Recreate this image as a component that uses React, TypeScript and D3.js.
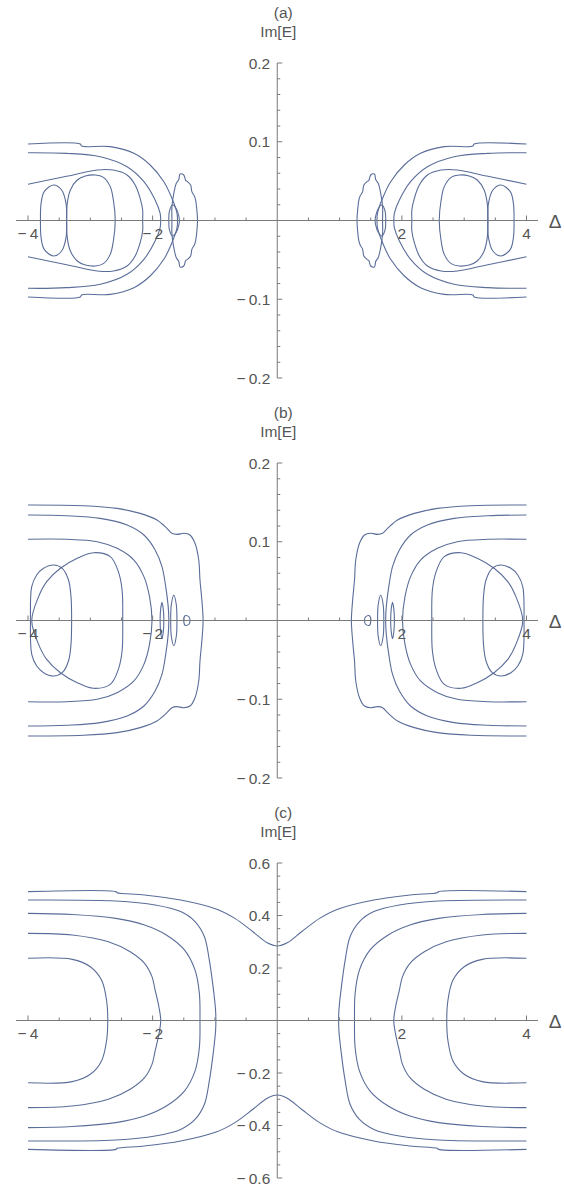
import React from 'react';
import * as d3 from 'd3';

type Pt = [number, number];

// ---------- axis ticks ----------
const X_TICK_VALUES = [-4, -2, 2, 4];
const X_TICK_LABELS = ['\u2212\u20094', '\u2212\u20092', '2', '4'];
const X_MINOR_VALUES = [-3.5, -3, -2.5, -1.5, -1, -0.5, 0.5, 1, 1.5, 2.5, 3, 3.5];

const AB_Y_TICKS = [-0.2, -0.1, 0.1, 0.2];
const AB_Y_LABELS = ['\u2212\u20090.2', '\u2212\u20090.1', '0.1', '0.2'];
const AB_Y_MINOR = [-0.18, -0.16, -0.14, -0.12, -0.08, -0.06, -0.04, -0.02, 0.02, 0.04, 0.06, 0.08, 0.12, 0.14, 0.16, 0.18];

const C_Y_TICKS = [-0.6, -0.4, -0.2, 0.2, 0.4, 0.6];
const C_Y_LABELS = ['\u2212\u20090.6', '\u2212\u20090.4', '\u2212\u20090.2', '0.2', '0.4', '0.6'];
const C_Y_MINOR = [-0.55, -0.5, -0.45, -0.35, -0.3, -0.25, -0.15, -0.1, -0.05, 0.05, 0.1, 0.15, 0.25, 0.3, 0.35, 0.45, 0.5, 0.55];

// ---------- panel (a): upper-left quadrant traces ----------
const A_OUTER: Pt[] = [[-4.0, 0.0971], [-3.16, 0.0971], [-3.14, 0.0945], [-2.68, 0.0938], [-2.3, 0.0853], [-2.04, 0.0705], [-1.82, 0.0493], [-1.69, 0.0282], [-1.61, 0.0097], [-1.6, 0]];
const A_SECOND: Pt[] = [[-4.0, 0.0861], [-3.38, 0.0853], [-2.84, 0.081], [-2.41, 0.0683], [-2.14, 0.0493], [-1.96, 0.026], [-1.88, 0.0093], [-1.87, 0]];
const A_THIRD: Pt[] = [[-4.0, 0.046], [-3.36, 0.0565], [-2.89, 0.0641], [-2.63, 0.0641], [-2.41, 0.0578], [-2.28, 0.0451], [-2.2, 0.0281], [-2.16, 0.0133], [-2.16, 0]];
const A_BIG_LOOP: Pt[] = [[-3.38, 0], [-3.37, 0.0217], [-3.32, 0.0387], [-3.21, 0.0514], [-3.08, 0.0565], [-2.92, 0.0578], [-2.79, 0.0548], [-2.68, 0.043], [-2.63, 0.026], [-2.6, 0]];
const A_SMALL_LOOP: Pt[] = [[-3.8, 0], [-3.79, 0.0217], [-3.74, 0.0366], [-3.59, 0.0451], [-3.46, 0.0387], [-3.39, 0.0217], [-3.38, 0]];
const A_BLOB: Pt[] = [[-1.69, 0], [-1.69, 0.0176], [-1.66, 0.0345], [-1.62, 0.0472], [-1.58, 0.052], [-1.56, 0.059], [-1.5, 0.0578], [-1.47, 0.051], [-1.44, 0.0493], [-1.39, 0.0451], [-1.37, 0.0366], [-1.33, 0.031], [-1.31, 0.026], [-1.29, 0.0133], [-1.28, 0]];
const A_INNER: Pt[] = [[-1.74, 0], [-1.73, 0.012], [-1.68, 0.0197], [-1.62, 0.015], [-1.58, 0.006], [-1.57, 0]];

// ---------- panel (b) ----------
const B_OUTER: Pt[] = [[-4.0, 0.1467], [-3.11, 0.1458], [-2.57, 0.1424], [-2.2, 0.136], [-1.93, 0.1276], [-1.77, 0.117], [-1.69, 0.1107], [-1.61, 0.1094], [-1.5, 0.1107], [-1.4, 0.1086], [-1.32, 0.098], [-1.26, 0.0768], [-1.24, 0.0514], [-1.21, 0.026], [-1.19, 0]];
const B_SECOND: Pt[] = [[-4.0, 0.134], [-3.38, 0.133], [-2.84, 0.1297], [-2.41, 0.1213], [-2.14, 0.1086], [-1.96, 0.0896], [-1.85, 0.0684], [-1.79, 0.043], [-1.75, 0.0176], [-1.74, 0]];
const B_THIRD: Pt[] = [[-4.0, 0.1031], [-3.38, 0.1031], [-2.89, 0.1001], [-2.57, 0.0917], [-2.3, 0.0768], [-2.14, 0.0557], [-2.05, 0.0303], [-2.01, 0]];
const B_BIG_LOOP: Pt[] = [[-3.94, 0], [-3.83, 0.0303], [-3.7, 0.0494], [-3.48, 0.0663], [-3.21, 0.079], [-2.95, 0.0861], [-2.68, 0.0811], [-2.55, 0.062], [-2.49, 0.0387], [-2.48, 0]];
const B_SMALL_LOOP: Pt[] = [[-3.96, 0], [-3.94, 0.043], [-3.86, 0.0578], [-3.75, 0.0663], [-3.59, 0.0705], [-3.45, 0.0663], [-3.35, 0.0514], [-3.31, 0.0303], [-3.3, 0]];
const B_LOOP_1: Pt[] = [[-1.88, 0], [-1.87, 0.015], [-1.85, 0.023], [-1.83, 0.015], [-1.82, 0]];
const B_LOOP_2: Pt[] = [[-1.71, 0], [-1.7, 0.02], [-1.66, 0.032], [-1.62, 0.02], [-1.61, 0]];
const B_LOOP_3: Pt[] = [[-1.5, 0], [-1.48, 0.006], [-1.42, 0.005], [-1.4, 0]];

// ---------- panel (c) ----------
const C_TOP: Pt[] = [[-4.0, 0.491], [-2.59, 0.491], [-2.57, 0.487], [-2.13, 0.478], [-1.55, 0.459], [-0.97, 0.424], [-0.68, 0.389], [-0.39, 0.338], [-0.16, 0.296], [0, 0.284]];
const C_SECOND: Pt[] = [[-4.0, 0.459], [-2.59, 0.455], [-1.96, 0.44], [-1.55, 0.415], [-1.32, 0.377], [-1.17, 0.32], [-1.09, 0.23], [-1.03, 0.129], [-0.99, 0.04], [-0.985, 0]];
const C_THIRD: Pt[] = [[-4.0, 0.408], [-3.29, 0.404], [-2.59, 0.389], [-2.13, 0.364], [-1.78, 0.326], [-1.49, 0.269], [-1.32, 0.193], [-1.25, 0.104], [-1.24, 0]];
const C_FOURTH: Pt[] = [[-4.0, 0.332], [-3.29, 0.326], [-2.71, 0.3], [-2.36, 0.262], [-2.13, 0.218], [-2.01, 0.167], [-1.96, 0.116], [-1.9, 0.053], [-1.87, 0]];
const C_FIFTH: Pt[] = [[-4.0, 0.237], [-3.29, 0.233], [-3.0, 0.205], [-2.82, 0.154], [-2.74, 0.078], [-2.72, 0]];

type Kind = 'edge' | 'loop' | 'bridge';
type Curve = { pts: Pt[]; kind: Kind };

const FONT = '"Liberation Sans", Arial, sans-serif';
const CURVE_COLOR = '#5a6d99';
const AXIS_COLOR = '#7a7a7a';
const TEXT_COLOR = '#555555';
const FS = 15.5;

function expand(c: Curve): { pts: Pt[]; closed: boolean }[] {
  const p = c.pts;
  if (c.kind === 'edge') {
    const full: Pt[] = [...p, ...p.slice(0, -1).reverse().map(([x, y]) => [x, -y] as Pt)];
    return [
      { pts: full, closed: false },
      { pts: full.map(([x, y]) => [-x, y] as Pt), closed: false },
    ];
  }
  if (c.kind === 'loop') {
    const full: Pt[] = [...p, ...p.slice(1, -1).reverse().map(([x, y]) => [x, -y] as Pt)];
    return [
      { pts: full, closed: true },
      { pts: full.map(([x, y]) => [-x, y] as Pt), closed: true },
    ];
  }
  const full: Pt[] = [...p, ...p.slice(0, -1).reverse().map(([x, y]) => [-x, y] as Pt)];
  return [
    { pts: full, closed: false },
    { pts: full.map(([x, y]) => [x, -y] as Pt), closed: false },
  ];
}

type PanelProps = {
  top: number;
  label: string;
  yMax: number;
  yTicks: number[];
  yLabels: string[];
  yMinor: number[];
  curves: Curve[];
};

function Panel({ top, label, yMax, yTicks, yLabels, yMinor, curves }: PanelProps) {
  const x = d3.scaleLinear().domain([-4, 4]).range([28, 526.5]);
  const y = d3.scaleLinear().domain([-yMax, yMax]).range([top + 315, top]);
  const x0 = x(0);
  const y0 = y(0);
  const open = d3.line<Pt>().x((d) => x(d[0])).y((d) => y(d[1])).curve(d3.curveCatmullRom.alpha(0.5));
  const closed = d3.line<Pt>().x((d) => x(d[0])).y((d) => y(d[1])).curve(d3.curveCatmullRomClosed.alpha(0.5));
  const paths = curves.flatMap(expand);
  return (
    <g>
      <text x={x0 + 6} y={top - 45} textAnchor="middle" fontSize={FS} fill={TEXT_COLOR} fontFamily={FONT}>{label}</text>
      <text x={x0 + 1} y={top - 26} textAnchor="middle" fontSize={FS} fill={TEXT_COLOR} fontFamily={FONT}>Im[E]</text>
      {paths.map((p, i) => (
        <path key={i} d={(p.closed ? closed : open)(p.pts) || ''} fill="none" stroke={CURVE_COLOR} strokeWidth={1.1} />
      ))}
      {/* x axis */}
      <line x1={16} x2={538} y1={y0} y2={y0} stroke={AXIS_COLOR} strokeWidth={1} />
      {X_TICK_VALUES.map((v, i) => (
        <g key={'xt' + i}>
          <line x1={x(v)} x2={x(v)} y1={y0} y2={y0 - 5} stroke={AXIS_COLOR} strokeWidth={1} />
          <text x={x(v)} y={y0 + 18.5} textAnchor="middle" fontSize={FS} fill={TEXT_COLOR} fontFamily={FONT}>{X_TICK_LABELS[i]}</text>
        </g>
      ))}
      {X_MINOR_VALUES.map((v, i) => (
        <line key={'xm' + i} x1={x(v)} x2={x(v)} y1={y0} y2={y0 - 3} stroke={AXIS_COLOR} strokeWidth={1} />
      ))}
      <text x={555} y={y0 + 7} textAnchor="middle" fontSize={19} fill={TEXT_COLOR} fontFamily={FONT}>Δ</text>
      {/* y axis */}
      <line x1={x0} x2={x0} y1={y(-yMax)} y2={y(yMax)} stroke={AXIS_COLOR} strokeWidth={1} />
      {yTicks.map((v, i) => (
        <g key={'yt' + i}>
          <line x1={x0} x2={x0 + 5} y1={y(v)} y2={y(v)} stroke={AXIS_COLOR} strokeWidth={1} />
          <text x={x0 - 7} y={y(v) + 5.5} textAnchor="end" fontSize={FS} fill={TEXT_COLOR} fontFamily={FONT}>{yLabels[i]}</text>
        </g>
      ))}
      {yMinor.map((v, i) => (
        <line key={'ym' + i} x1={x0} x2={x0 + 3} y1={y(v)} y2={y(v)} stroke={AXIS_COLOR} strokeWidth={1} />
      ))}
    </g>
  );
}

const PANEL_A: Curve[] = [
  { pts: A_OUTER, kind: 'edge' },
  { pts: A_SECOND, kind: 'edge' },
  { pts: A_THIRD, kind: 'edge' },
  { pts: A_BIG_LOOP, kind: 'loop' },
  { pts: A_SMALL_LOOP, kind: 'loop' },
  { pts: A_BLOB, kind: 'loop' },
  { pts: A_INNER, kind: 'loop' },
];
const PANEL_B: Curve[] = [
  { pts: B_OUTER, kind: 'edge' },
  { pts: B_SECOND, kind: 'edge' },
  { pts: B_THIRD, kind: 'edge' },
  { pts: B_BIG_LOOP, kind: 'loop' },
  { pts: B_SMALL_LOOP, kind: 'loop' },
  { pts: B_LOOP_1, kind: 'loop' },
  { pts: B_LOOP_2, kind: 'loop' },
  { pts: B_LOOP_3, kind: 'loop' },
];
const PANEL_C: Curve[] = [
  { pts: C_TOP, kind: 'bridge' },
  { pts: C_SECOND, kind: 'edge' },
  { pts: C_THIRD, kind: 'edge' },
  { pts: C_FOURTH, kind: 'edge' },
  { pts: C_FIFTH, kind: 'edge' },
];

export default function App() {
  return (
    <svg
      width={564}
      height={1189}
      viewBox="0 0 564 1189"
      style={{ position: 'absolute', left: 0, top: 0, background: '#ffffff' }}
    >
      <rect x={0} y={0} width={564} height={1189} fill="#ffffff" />
      <Panel top={63} label="(a)" yMax={0.2} yTicks={AB_Y_TICKS} yLabels={AB_Y_LABELS} yMinor={AB_Y_MINOR} curves={PANEL_A} />
      <Panel top={463} label="(b)" yMax={0.2} yTicks={AB_Y_TICKS} yLabels={AB_Y_LABELS} yMinor={AB_Y_MINOR} curves={PANEL_B} />
      <Panel top={863} label="(c)" yMax={0.6} yTicks={C_Y_TICKS} yLabels={C_Y_LABELS} yMinor={C_Y_MINOR} curves={PANEL_C} />
    </svg>
  );
}
